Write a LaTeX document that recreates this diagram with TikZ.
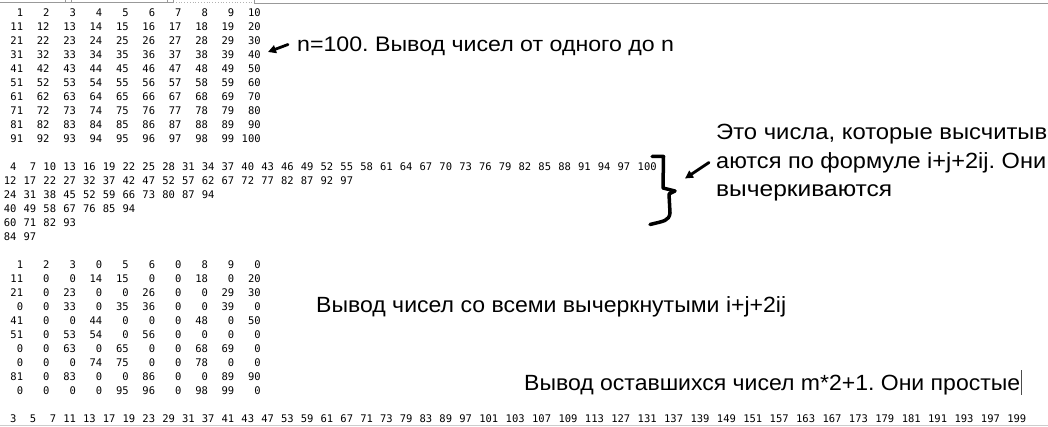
\documentclass[tikz,border=0pt]{standalone}
\usepackage{fontspec}
\usepackage{graphicx}
\usetikzlibrary{arrows.meta}
\newfontfamily\monofam{DejaVu Sans Mono}
\newfontfamily\handfam{Liberation Sans}
\newcommand\fitto[2]{\resizebox{#1}{\height}{#2}}
\frenchspacing
\begin{document}
\begin{tikzpicture}[x=1pt,y=-1pt,
  num/.style={font=\fontsize{10.5}{12}\monofam, inner sep=0pt, anchor=base east, text=black},
  note/.style={font=\fontsize{#1}{26}\handfam\frenchspacing, inner sep=0pt, anchor=base west},
  note/.default=22,
  pen/.style={line width=3.5pt, line cap=round, line join=round},
  arrowpen/.style={line width=2.8pt, line cap=round, -{Triangle[length=8pt,width=8pt]}},
  uiline/.style={line width=0.8pt, draw=black!40},
  uidot/.style={line width=0.8pt, draw=black!30, dotted}]
\useasboundingbox[fill=white] (0,0) rectangle (1048,427);
% window chrome
\draw[uiline] (0,2.5) -- (173,2.5);
\draw[uidot] (173,2.5) -- (254,2.5);
\draw[uiline] (254,3) -- (1048,3);
\foreach \xx in {65,71,167,173,254}{\draw[uiline] (\xx,0) -- (\xx,3);}
\draw[line width=0.8pt, draw=black!20] (0,425.5) -- (1048,425.5);
% grid 1
\foreach \r in {0,...,9}{
  \foreach \c in {1,...,10}{
    \pgfmathtruncatemacro\v{10*\r+\c}
    \pgfmathsetmacro\xx{3.5+(4*\c-1)*6.6}
    \pgfmathsetmacro\yy{17+13.97*\r}
    \node[num] (ga-\v) at (\xx,\yy) {\v};
  }
}
% grid 2
\foreach \row [count=\r from 11] in {
  {4,7,10,13,16,19,22,25,28,31,34,37,40,43,46,49,52,55,58,61,64,67,70,73,76,79,82,85,88,91,94,97,100},
  {12,17,22,27,32,37,42,47,52,57,62,67,72,77,82,87,92,97},
  {24,31,38,45,52,59,66,73,80,87,94},
  {40,49,58,67,76,85,94},
  {60,71,82,93},
  {84,97}}{
  \foreach \v [count=\k from 0] in \row {
    \pgfmathsetmacro\xx{3.5+(3*\k+2+(\v>99))*6.6}
    \pgfmathsetmacro\yy{17+13.97*\r}
    \node[num] (gb-\r-\k) at (\xx,\yy) {\v};
  }
}
% grid 3
\foreach \row [count=\r from 18] in {
  {1,2,3,0,5,6,0,8,9,0},
  {11,0,0,14,15,0,0,18,0,20},
  {21,0,23,0,0,26,0,0,29,30},
  {0,0,33,0,35,36,0,0,39,0},
  {41,0,0,44,0,0,0,48,0,50},
  {51,0,53,54,0,56,0,0,0,0},
  {0,0,63,0,65,0,0,68,69,0},
  {0,0,0,74,75,0,0,78,0,0},
  {81,0,83,0,0,86,0,0,89,90},
  {0,0,0,0,95,96,0,98,99,0}}{
  \foreach \v [count=\c] in \row {
    \pgfmathsetmacro\xx{3.5+(4*\c-1)*6.6}
    \pgfmathsetmacro\yy{17+13.97*\r}
    \node[num] (gc-\r-\c) at (\xx,\yy) {\v};
  }
}
% primes
\foreach \v [count=\k from 0] in {3,5,7,11,13,17,19,23,29,31,37,41,43,47,53,59,61,67,71,73,79,83,89,97,101,103,107,109,113,127,131,137,139,149,151,157,163,167,173,179,181,191,193,197,199}{
  \pgfmathsetmacro\xx{3.5+6.6*ifthenelse(\k<24,3*\k+2,4*\k-21)}
  \pgfmathsetmacro\yy{17+13.97*29}
  \node[num] (gd-\k) at (\xx,\yy) {\v};
}
% notes
\node[note=21] (t1) at (297,52) {\fitto{377pt}{n=100. Вывод чисел от одного до n}};
\node[note=22] (t2a) at (716,140) {\fitto{331pt}{Это числа, которые высчитыв}};
\node[note=22] (t2b) at (716,169) {\fitto{330pt}{аются по формуле i+j+2ij. Они}};
\node[note=22] (t2c) at (716,197) {\fitto{176pt}{вычеркиваются}};
\node[note=22] (t3) at (316,312.3) {\fitto{470pt}{Вывод чисел со всеми вычеркнутыми i+j+2ij}};
\node[note=22] (t4) at (524,390) {\fitto{496pt}{Вывод оставшихся чисел m*2+1. Они простые}};
\draw[line width=0.8pt, draw=black!70] (1021,370) -- (1021,395);
% arrows
\coordinate (a1s) at (288,44.5);
\coordinate (a1e) at (268,52);
\draw[arrowpen] (a1s) -- (a1e);
\coordinate (a2s) at (709,162.5);
\coordinate (a2e) at (685,178.5);
\draw[arrowpen] (a2s) -- (a2e);
% hand-drawn brace
\draw[pen] (652,156.5) -- (663.5,156.5) -- (663,188) -- (675,191) -- (669,194) -- (670,213) .. controls (669,221) and (664,221) .. (650,224.5);
\end{tikzpicture}
\end{document}
